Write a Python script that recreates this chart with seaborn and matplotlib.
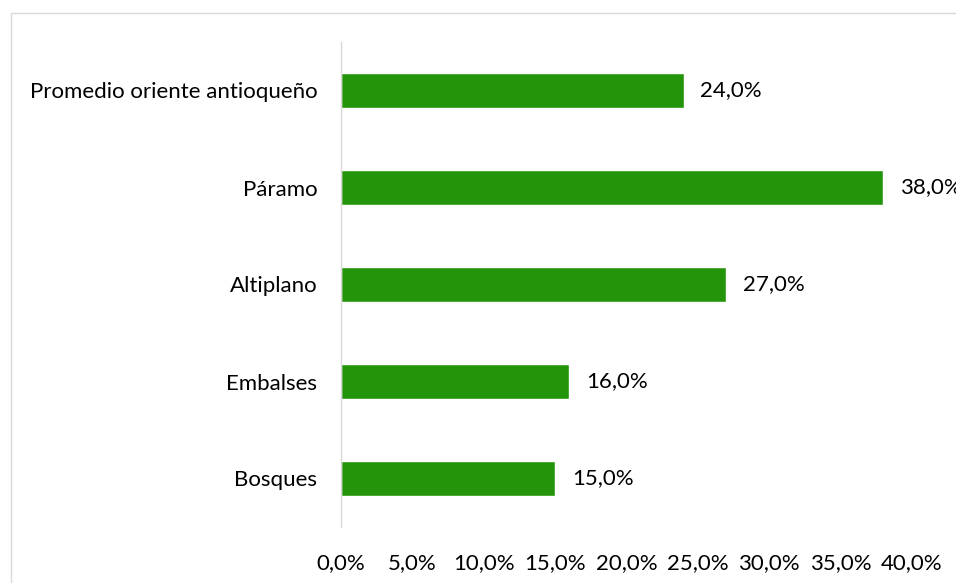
import pandas as pd
import matplotlib.pyplot as plt
import seaborn as sns
from matplotlib.patches import Rectangle
from matplotlib.ticker import FuncFormatter

categorias = ['Promedio oriente antioqueño', 'Páramo', 'Altiplano', 'Embalses', 'Bosques']
valores = [24.0, 38.0, 27.0, 16.0, 15.0]

df = pd.DataFrame({'zona': categorias, 'valor': valores})

sns.set_style('white')
plt.rcParams['font.family'] = ['Lato', 'DejaVu Sans']
plt.rcParams['text.color'] = '#000000'

fig = plt.figure(figsize=(9.56, 5.83), dpi=100)
ax = fig.add_axes([341/956, 1 - 527/583, (912 - 341)/956, (527 - 42)/583])

sns.barplot(data=df, y='zona', x='valor', color='#24940A', width=0.36,
            saturation=1, ax=ax, orient='h')

ax.set_xlim(0, 40)
ax.set_ylim(4.5, -0.5)
ax.set_xticks(range(0, 41, 5))
ax.xaxis.set_major_formatter(FuncFormatter(lambda v, p: f'{v:.1f}'.replace('.', ',') + '%'))
ax.set_xlabel('')
ax.set_ylabel('')
ax.tick_params(axis='y', length=0, pad=17, labelsize=16, labelcolor='black')
ax.tick_params(axis='x', length=0, pad=19, labelsize=16, labelcolor='black')

for s in ['top', 'right', 'bottom']:
    ax.spines[s].set_visible(False)
ax.spines['left'].set_color('#D9D9D9')
ax.spines['left'].set_linewidth(1)

# etiquetas de valor (la de 38,0% queda cortada en el borde como en el original)
for i, v in enumerate(valores):
    ax.annotate(f'{v:.1f}'.replace('.', ',') + '%', xy=(v, i), xytext=(12, 0),
                textcoords='offset points', va='center', ha='left', fontsize=16,
                color='black', annotation_clip=False)

# marco del grafico
fig.patches.append(Rectangle((11/956, -0.1), 1.2, 1 - 13/583 + 0.1, transform=fig.transFigure,
                             fill=False, edgecolor='#D9D9D9', linewidth=1))

fig.savefig('out.png', dpi=100)
